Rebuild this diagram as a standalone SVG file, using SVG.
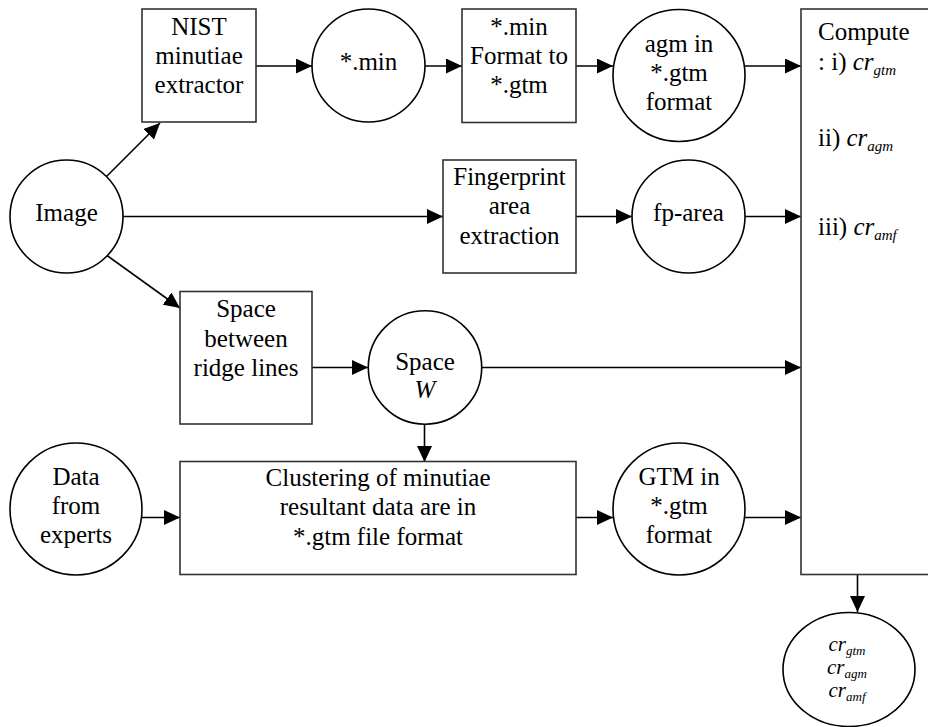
<svg xmlns="http://www.w3.org/2000/svg" width="928" height="727" viewBox="0 0 928 727">
<defs>
<marker id="ah" viewBox="0 0 16 15" refX="16" refY="7.5" markerWidth="16" markerHeight="15" orient="auto" markerUnits="userSpaceOnUse">
<path d="M0,0 L16,7.5 L0,15 z" fill="#000"/>
</marker>
</defs>
<style>
.n{fill:#fff;stroke:#000;stroke-width:1.6}
.b{fill:#fff;stroke:#333;stroke-width:1.6}
.t{font-size:25px;fill:#000;text-anchor:middle}
.tl{font-size:25px;fill:#000}
.i{font-style:italic}
.sub{font-style:italic;font-size:15px}
.sm{font-size:21px;font-style:italic;fill:#000;text-anchor:middle}
.sm2{font-size:13px}
.c{fill:none;stroke:#000;stroke-width:1.6;marker-end:url(#ah)}
</style>
<rect width="928" height="727" fill="#fff"/>

<g id="connectors">
<line class="c" x1="256" y1="66" x2="312" y2="66"/>
<line class="c" x1="425" y1="66" x2="462" y2="66"/>
<line class="c" x1="576" y1="66" x2="613" y2="66"/>
<line class="c" x1="745" y1="66" x2="801" y2="66"/>
<line class="c" x1="106" y1="177" x2="160" y2="123"/>
<line class="c" x1="123" y1="216.5" x2="443" y2="216.5"/>
<line class="c" x1="576" y1="216.5" x2="632" y2="216.5"/>
<line class="c" x1="745" y1="216.5" x2="801" y2="216.5"/>
<line class="c" x1="105" y1="254" x2="180" y2="308"/>
<line class="c" x1="312" y1="367.5" x2="368" y2="367.5"/>
<line class="c" x1="482" y1="367.5" x2="801" y2="367.5"/>
<line class="c" x1="424.5" y1="424" x2="424.5" y2="462"/>
<line class="c" x1="142" y1="517.5" x2="180" y2="517.5"/>
<line class="c" x1="576" y1="517.5" x2="613" y2="517.5"/>
<line class="c" x1="745" y1="517.5" x2="801" y2="517.5"/>
<line class="c" x1="857.5" y1="574.5" x2="857.5" y2="612"/>
</g>

<g font-family="Liberation Serif, Times New Roman, serif">
<g id="nist">
<rect class="b" x="142" y="9" width="114" height="113"/>
<text class="t" x="199" y="35">NIST</text>
<text class="t" x="199" y="64">minutiae</text>
<text class="t" x="199" y="93">extractor</text>
</g>

<g id="min">
<circle class="n" cx="368.5" cy="65.5" r="56.5"/>
<text class="t" x="368.5" y="70">*.min</text>
</g>

<g id="format">
<rect class="b" x="462" y="9" width="114" height="113.5"/>
<text class="t" x="519" y="35">*.min</text>
<text class="t" x="519" y="64">Format to</text>
<text class="t" x="519" y="93">*.gtm</text>
</g>

<g id="agm">
<circle class="n" cx="679" cy="75.5" r="66"/>
<text class="t" x="679" y="52">agm in</text>
<text class="t" x="679" y="81">*.gtm</text>
<text class="t" x="679" y="110">format</text>
</g>

<g id="image">
<circle class="n" cx="66.5" cy="216.5" r="56.5"/>
<text class="t" x="66.5" y="221">Image</text>
</g>

<g id="fingerprint">
<rect class="b" x="443" y="160" width="133" height="113"/>
<text class="t" x="509.5" y="185">Fingerprint</text>
<text class="t" x="509.5" y="214">area</text>
<text class="t" x="509.5" y="244">extraction</text>
</g>

<g id="fparea">
<circle class="n" cx="688.5" cy="216.5" r="56.5"/>
<text class="t" x="688.5" y="221">fp-area</text>
</g>

<g id="spacebetween">
<rect class="b" x="180" y="291.5" width="132" height="132.5"/>
<text class="t" x="246" y="317">Space</text>
<text class="t" x="246" y="346.5">between</text>
<text class="t" x="246" y="376">ridge lines</text>
</g>

<g id="spacew">
<circle class="n" cx="425" cy="367.5" r="56.7"/>
<text class="t" x="425" y="370">Space</text>
<text class="t i" x="425" y="398">W</text>
</g>

<g id="experts">
<circle class="n" cx="76" cy="509" r="66"/>
<text class="t" x="76" y="485">Data</text>
<text class="t" x="76" y="514">from</text>
<text class="t" x="76" y="543">experts</text>
</g>

<g id="clustering">
<rect class="b" x="180" y="461.5" width="396" height="113"/>
<text class="t" x="378" y="485.5">Clustering of minutiae</text>
<text class="t" x="378" y="515">resultant data are in</text>
<text class="t" x="378" y="544.5">*.gtm file format</text>
</g>

<g id="gtm">
<circle class="n" cx="679" cy="509" r="66"/>
<text class="t" x="679" y="485">GTM in</text>
<text class="t" x="679" y="514">*.gtm</text>
<text class="t" x="679" y="543">format</text>
</g>

<g id="compute">
<rect class="b" x="801" y="9" width="140" height="565.5"/>
<text class="tl" x="818" y="40">Compute</text>
<text class="tl" x="818" y="70">: i) <tspan class="i">cr</tspan><tspan class="sub" dy="5">gtm</tspan></text>
<text class="tl" x="818" y="146">ii) <tspan class="i">cr</tspan><tspan class="sub" dy="5">agm</tspan></text>
<text class="tl" x="818" y="235">iii) <tspan class="i">cr</tspan><tspan class="sub" dy="5">amf</tspan></text>
</g>

<g id="output">
<ellipse class="n" cx="849" cy="669.5" rx="66" ry="57"/>
<text class="sm" x="847" y="651">cr<tspan class="sm2" dy="4">gtm</tspan></text>
<text class="sm" x="847" y="674">cr<tspan class="sm2" dy="4">agm</tspan></text>
<text class="sm" x="847" y="697">cr<tspan class="sm2" dy="4">amf</tspan></text>
</g>
</g>
</svg>
